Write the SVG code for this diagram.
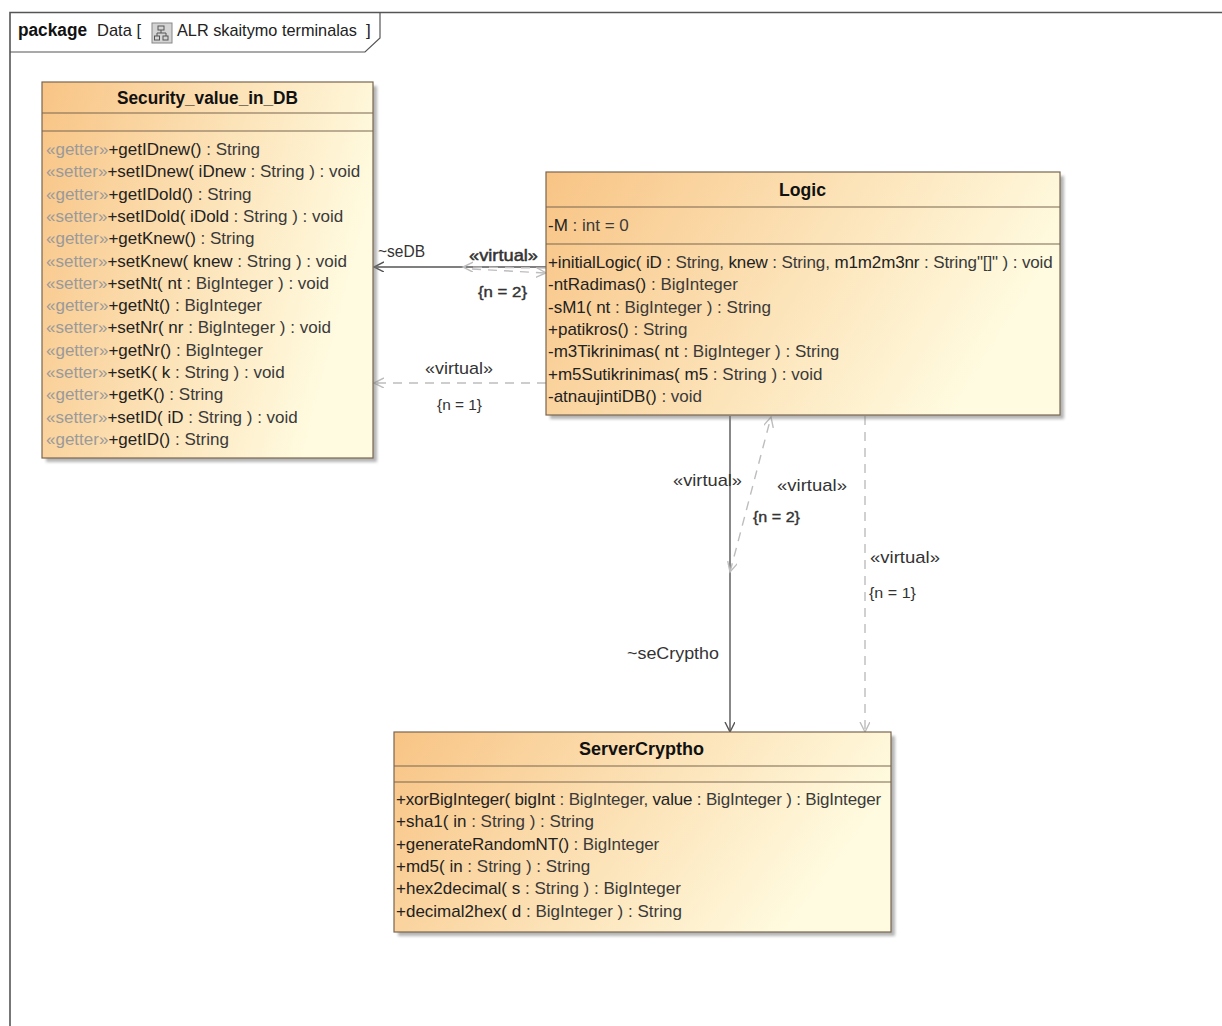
<svg xmlns="http://www.w3.org/2000/svg" width="1222" height="1026" viewBox="0 0 1222 1026">
<style>
text{font-family:"Liberation Sans",Arial,sans-serif;font-size:17px;fill:#222}
.t{font-weight:bold;fill:#111;font-size:18px}
.st{fill:#9a9a9a}
.ty{fill:#3a3a3a}
.lbl{fill:#333}
.sm{font-size:15px}
.tight{letter-spacing:-0.12px}
.box{stroke:#7a6650;stroke-width:1.2;fill:url(#g)}
.sep{stroke:#7a6650;stroke-width:1.2}
.sh{fill:#777;opacity:.55;filter:url(#b)}
.solid{stroke:#555;stroke-width:1.4;fill:none}
.dash{stroke:#bdbdbd;stroke-width:1.4;fill:none;stroke-dasharray:9 7}
</style>
<defs>
<linearGradient id="g" x1="0" y1="0" x2="1" y2="0.3">
<stop offset="0" stop-color="#f8c485"/>
<stop offset="1" stop-color="#fffbe0"/>
</linearGradient>
<filter id="b" x="-5%" y="-5%" width="110%" height="110%"><feGaussianBlur stdDeviation="1.5"/></filter>
<marker id="ad" markerUnits="userSpaceOnUse" markerWidth="12" markerHeight="12" refX="10" refY="5" orient="auto-start-reverse"><path d="M0,0 L10,5 L0,10" fill="none" stroke="#555" stroke-width="1.4"/></marker>
<marker id="al" markerUnits="userSpaceOnUse" markerWidth="12" markerHeight="12" refX="10" refY="5" orient="auto-start-reverse"><path d="M0,0 L10,5 L0,10" fill="none" stroke="#bdbdbd" stroke-width="1.4"/></marker>
</defs>
<rect width="1222" height="1026" fill="#fff"/>

<g id="frame">
<path d="M10,1026 L10,12.5 L1222,12.5" fill="none" stroke="#555" stroke-width="1.6"/>
<path d="M10,52 L365,52 L380,38 L380,12.5" fill="none" stroke="#555" stroke-width="1.2"/>
<text x="18" y="36" class="t" font-size="17" textLength="69" lengthAdjust="spacingAndGlyphs">package</text>
<text x="97" y="36" textLength="44" lengthAdjust="spacingAndGlyphs">Data [</text>
<g id="icon">
<rect x="152" y="23" width="20" height="20" fill="#d4d4d4" stroke="#888" stroke-width="1"/>
<rect x="158" y="26" width="6" height="4" fill="none" stroke="#555" stroke-width="1"/>
<rect x="154.5" y="36" width="5" height="4" fill="none" stroke="#555" stroke-width="1"/>
<rect x="163" y="36" width="5" height="4" fill="none" stroke="#555" stroke-width="1"/>
<path d="M161,30 V33 M157,33 H166 M157,33 V36 M166,33 V36" stroke="#555" stroke-width="1" fill="none"/>
</g>
<text x="177" y="36" textLength="180" lengthAdjust="spacingAndGlyphs">ALR skaitymo terminalas</text>
<text x="366" y="36">]</text>
</g>

<g id="connectors">
<path class="solid" d="M546,267 L374,267" marker-end="url(#ad)"/>
<path class="dash" d="M546,268 L463,267" marker-end="url(#al)"/>
<path class="dash" d="M472,269 L546,273" marker-end="url(#al)"/>
<path class="dash" d="M546,383 L374,383" marker-end="url(#al)"/>
<path class="solid" d="M730,416 L730,732" marker-end="url(#ad)"/>
<path class="dash" d="M730,572 L771,417" marker-start="url(#al)" marker-end="url(#al)"/>
<path class="dash" d="M865,416 L865,732" marker-end="url(#al)"/>
<text class="lbl" x="378" y="257" textLength="47" lengthAdjust="spacingAndGlyphs">~seDB</text>
<text class="lbl" x="469" y="261" textLength="69" lengthAdjust="spacingAndGlyphs" stroke="#333" stroke-width="0.5">«virtual»</text>
<text class="lbl sm" x="478" y="297" textLength="49" lengthAdjust="spacingAndGlyphs" stroke="#333" stroke-width="0.4">{n = 2}</text>
<text class="lbl" x="425" y="374" textLength="68" lengthAdjust="spacingAndGlyphs">«virtual»</text>
<text class="lbl sm" x="437" y="410" textLength="45" lengthAdjust="spacingAndGlyphs">{n = 1}</text>
<text class="lbl" x="673" y="486" textLength="69" lengthAdjust="spacingAndGlyphs">«virtual»</text>
<text class="lbl" x="777" y="491" textLength="70" lengthAdjust="spacingAndGlyphs">«virtual»</text>
<text class="lbl sm" x="753" y="522" textLength="47" lengthAdjust="spacingAndGlyphs" stroke="#333" stroke-width="0.4">{n = 2}</text>
<text class="lbl" x="870" y="563" textLength="70" lengthAdjust="spacingAndGlyphs">«virtual»</text>
<text class="lbl sm" x="869" y="598" textLength="47" lengthAdjust="spacingAndGlyphs">{n = 1}</text>
<text class="lbl" x="627" y="659" textLength="92" lengthAdjust="spacingAndGlyphs">~seCryptho</text>
</g>

<g id="Security_value_in_DB">
<rect class="sh" x="46" y="86" width="331" height="376"/>
<rect class="box" x="42" y="82" width="331" height="376"/>
<line class="sep" x1="42" y1="113" x2="373" y2="113"/>
<line class="sep" x1="42" y1="131" x2="373" y2="131"/>
<text class="t" x="117" y="104" textLength="181" lengthAdjust="spacingAndGlyphs">Security_value_in_DB</text>
<text x="46" y="155"><tspan class="st">«getter»</tspan>+getIDnew()<tspan class="ty"> : String</tspan></text>
<text x="46" y="177.3"><tspan class="st">«setter»</tspan>+setIDnew( iDnew<tspan class="ty"> : String ) : void</tspan></text>
<text x="46" y="199.6"><tspan class="st">«getter»</tspan>+getIDold()<tspan class="ty"> : String</tspan></text>
<text x="46" y="221.9"><tspan class="st">«setter»</tspan>+setIDold( iDold<tspan class="ty"> : String ) : void</tspan></text>
<text x="46" y="244.2"><tspan class="st">«getter»</tspan>+getKnew()<tspan class="ty"> : String</tspan></text>
<text x="46" y="266.5"><tspan class="st">«setter»</tspan>+setKnew( knew<tspan class="ty"> : String ) : void</tspan></text>
<text x="46" y="288.8"><tspan class="st">«setter»</tspan>+setNt( nt<tspan class="ty"> : BigInteger ) : void</tspan></text>
<text x="46" y="311.1"><tspan class="st">«getter»</tspan>+getNt()<tspan class="ty"> : BigInteger</tspan></text>
<text x="46" y="333.4"><tspan class="st">«setter»</tspan>+setNr( nr<tspan class="ty"> : BigInteger ) : void</tspan></text>
<text x="46" y="355.7"><tspan class="st">«getter»</tspan>+getNr()<tspan class="ty"> : BigInteger</tspan></text>
<text x="46" y="378"><tspan class="st">«setter»</tspan>+setK( k<tspan class="ty"> : String ) : void</tspan></text>
<text x="46" y="400.3"><tspan class="st">«getter»</tspan>+getK()<tspan class="ty"> : String</tspan></text>
<text x="46" y="422.6"><tspan class="st">«setter»</tspan>+setID( iD<tspan class="ty"> : String ) : void</tspan></text>
<text x="46" y="444.9"><tspan class="st">«getter»</tspan>+getID()<tspan class="ty"> : String</tspan></text>
</g>

<g id="Logic">
<rect class="sh" x="550" y="176" width="514" height="243"/>
<rect class="box" x="546" y="172" width="514" height="243"/>
<line class="sep" x1="546" y1="207" x2="1060" y2="207"/>
<line class="sep" x1="546" y1="244" x2="1060" y2="244"/>
<text class="t" x="779" y="196" textLength="47" lengthAdjust="spacingAndGlyphs">Logic</text>
<text x="548" y="231">-M<tspan class="ty"> : int = 0</tspan></text>
<text x="548" y="268" class="tight">+initialLogic( iD<tspan class="ty"> : String, </tspan>knew<tspan class="ty"> : String, </tspan>m1m2m3nr<tspan class="ty"> : String"[]" ) : void</tspan></text>
<text x="548" y="290.3">-ntRadimas()<tspan class="ty"> : BigInteger</tspan></text>
<text x="548" y="312.6">-sM1( nt<tspan class="ty"> : BigInteger ) : String</tspan></text>
<text x="548" y="334.9">+patikros()<tspan class="ty"> : String</tspan></text>
<text x="548" y="357.2">-m3Tikrinimas( nt<tspan class="ty"> : BigInteger ) : String</tspan></text>
<text x="548" y="379.5">+m5Sutikrinimas( m5<tspan class="ty"> : String ) : void</tspan></text>
<text x="548" y="401.8">-atnaujintiDB()<tspan class="ty"> : void</tspan></text>
</g>

<g id="ServerCryptho">
<rect class="sh" x="398" y="736" width="497" height="200"/>
<rect class="box" x="394" y="732" width="497" height="200"/>
<line class="sep" x1="394" y1="766" x2="891" y2="766"/>
<line class="sep" x1="394" y1="782" x2="891" y2="782"/>
<text class="t" x="579" y="755" textLength="125" lengthAdjust="spacingAndGlyphs">ServerCryptho</text>
<text x="396" y="805" class="tight" style="letter-spacing:-0.18px">+xorBigInteger( bigInt<tspan class="ty"> : BigInteger, </tspan>value<tspan class="ty"> : BigInteger ) : BigInteger</tspan></text>
<text x="396" y="827.3">+sha1( in<tspan class="ty"> : String ) : String</tspan></text>
<text x="396" y="849.6" class="tight">+generateRandomNT()<tspan class="ty"> : BigInteger</tspan></text>
<text x="396" y="871.9">+md5( in<tspan class="ty"> : String ) : String</tspan></text>
<text x="396" y="894.2">+hex2decimal( s<tspan class="ty"> : String ) : BigInteger</tspan></text>
<text x="396" y="916.5">+decimal2hex( d<tspan class="ty"> : BigInteger ) : String</tspan></text>
</g>
</svg>
